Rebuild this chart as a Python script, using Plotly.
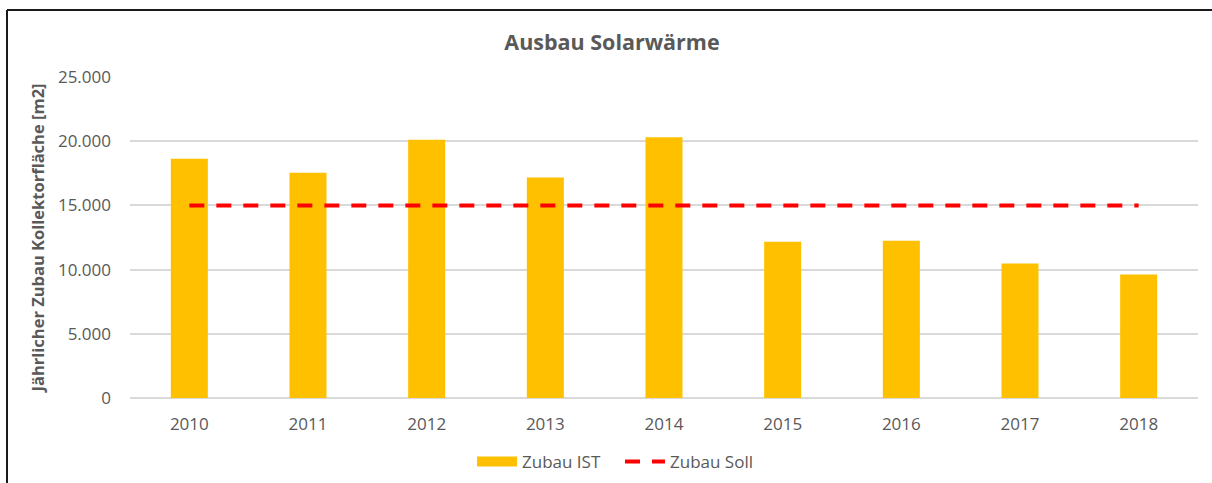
import plotly.graph_objects as go

years = ["2010", "2011", "2012", "2013", "2014", "2015", "2016", "2017", "2018"]
zubau_ist = [18640, 17550, 20110, 17170, 20300, 12160, 12240, 10470, 9620]
zubau_soll = [15000, 15000, 15000, 15000, 15000, 15000, 15000, 15000, 15000]
y_ticks = [0, 5000, 10000, 15000, 20000, 25000]

FONT = "Open Sans"
GRAY = "#595959"
YELLOW = "#FFC000"

fig = go.Figure()
fig.add_trace(go.Bar(x=years, y=zubau_ist, name="Zubau IST", showlegend=False,
                     marker=dict(color=YELLOW, line=dict(width=0))))
# legend entry drawn as a wide yellow swatch (like the reference)
fig.add_trace(go.Scatter(x=[None], y=[None], name="Zubau IST", mode="lines",
                         line=dict(color=YELLOW, width=12)))
fig.add_trace(go.Scatter(x=years, y=zubau_soll, name="Zubau Soll", mode="lines",
                         line=dict(color="#FF0000", width=4, dash="15px,12px")))

W, H = 1212, 483
L, R, T, B = 130, 14, 77, 85
pw, ph = W - L - R, H - T - B

def px_x(x):
    return (x - L) / pw

def px_y(y):
    return (H - B - y) / ph

fig.update_layout(
    width=W, height=H, autosize=False,
    margin=dict(l=L, r=R, t=T, b=B, autoexpand=False),
    paper_bgcolor="white", plot_bgcolor="white",
    separators=",.",
    bargap=0.688,
    font=dict(family=FONT, color=GRAY, size=17),
    title=dict(text="<b>Ausbau Solarwärme</b>", x=612 / W, xref="container",
               y=1 - 42 / H, yref="container", xanchor="center", yanchor="middle",
               font=dict(family=FONT, size=21.5, color=GRAY)),
    legend=dict(orientation="h", x=472 / W, xref="container", xanchor="left",
                y=1 - 462 / H, yref="container", yanchor="middle",
                font=dict(family=FONT, size=17, color=GRAY),
                itemwidth=40, traceorder="normal",
                entrywidth=93, entrywidthmode="pixels"),
    xaxis=dict(showgrid=False, showline=False, zeroline=False,
               tickfont=dict(family=FONT, size=17, color=GRAY),
               ticklabelstandoff=14),
    yaxis=dict(range=[0, 25000], tickvals=y_ticks, tickformat=",d",
               showgrid=True, gridcolor="#D9D9D9", gridwidth=1.5,
               zeroline=True, zerolinecolor="#D9D9D9", zerolinewidth=1.5,
               showline=False,
               tickfont=dict(family=FONT, size=17, color=GRAY),
               ticklabelstandoff=18,
               title=dict(text="<b>Jährlicher Zubau Kollektorfläche [m2]</b>",
                          font=dict(family=FONT, size=16.5, color=GRAY), standoff=9)),
    shapes=[
        dict(type="line", xref="paper", yref="paper",
             x0=px_x(7), x1=px_x(1215), y0=px_y(10), y1=px_y(10),
             line=dict(color="#1a1a1a", width=2)),
        dict(type="line", xref="paper", yref="paper",
             x0=px_x(7), x1=px_x(7), y0=px_y(10), y1=px_y(490),
             line=dict(color="#1a1a1a", width=2)),
    ],
)

post = "document.body.style.margin='0';document.body.style.overflow='hidden';"

fig.write_html("out.html", post_script=post,
               config={"responsive": False, "displayModeBar": False})
